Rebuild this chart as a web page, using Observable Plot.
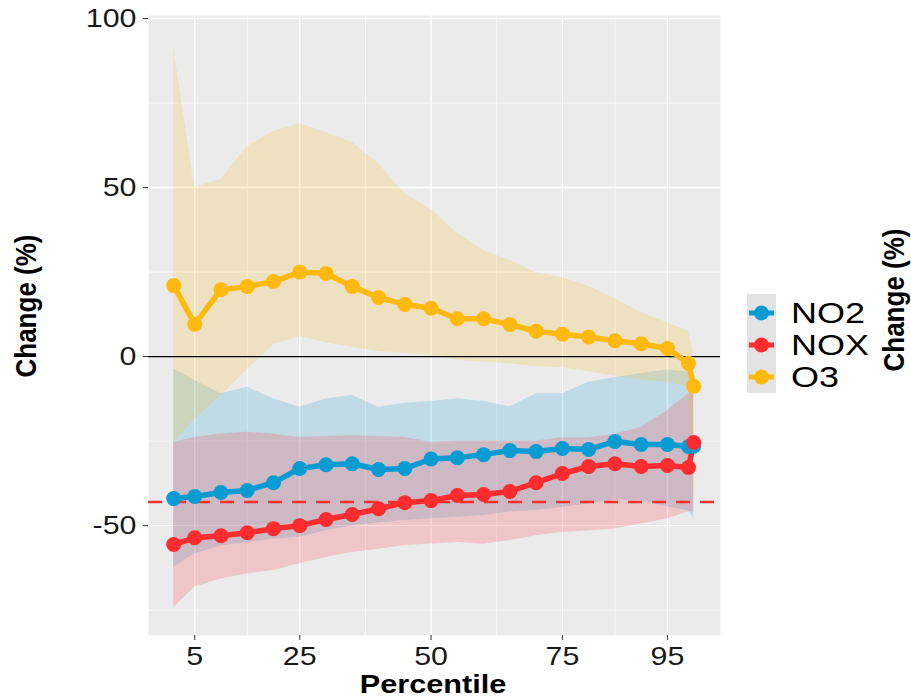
<!DOCTYPE html>
<html>
<head>
<meta charset="utf-8">
<script src="https://cdn.jsdelivr.net/npm/d3@7"></script>
<script src="https://cdn.jsdelivr.net/npm/@observablehq/plot@0.6"></script>
<style>
  html, body { margin: 0; padding: 0; background: #ffffff; }
  #wrap { position: relative; width: 911px; height: 698px; overflow: hidden; font-family: "Liberation Sans", Arial, sans-serif; }
  .ttl { position: absolute; font-weight: bold; font-size: 26px; color: #000; white-space: nowrap; line-height: 26px; }
  .rot { transform: translate(-50%, -50%) rotate(-90deg) scaleY(1.15); }
  .leg { position: absolute; font-size: 30px; color: #000; line-height: 26px; white-space: nowrap; transform-origin: left center; transform: translateY(-50%) scaleX(1.2); }
</style>
</head>
<body>
<div id="wrap"></div>
<script>
// ---- data ----
const percentiles = [1, 5, 10, 15, 20, 25, 30, 35, 40, 45, 50, 55, 60, 65, 70, 75, 80, 85, 90, 95, 99, 100];
const seriesNames = ["NO2", "NOX", "O3"];
const seriesColors = ["#0a9bd2", "#fd2d2f", "#ffb90f"];

const no2Mean = [-42.0, -41.4, -40.2, -39.6, -37.3, -33.1, -32.0, -31.7, -33.4, -33.1, -30.3, -29.9, -29.0, -27.8, -28.1, -27.2, -27.5, -25.1, -26.0, -26.0, -26.6, -26.5];
const no2High = [-3.6, -7.1, -11.0, -9.1, -12.5, -15.0, -12.5, -11.5, -15.0, -13.8, -13.3, -12.5, -13.3, -14.8, -11.0, -11.0, -7.6, -6.2, -5.0, -4.0, -4.5, -12.0];
const no2Low  = [-62.3, -58.4, -56.0, -55.0, -54.0, -53.4, -51.5, -50.0, -49.2, -48.5, -48.0, -47.5, -47.0, -46.0, -45.5, -44.6, -43.5, -42.5, -42.5, -44.5, -45.6, -48.0];

const noxMean = [-55.6, -53.6, -53.0, -52.1, -50.9, -50.0, -48.2, -46.7, -45.0, -43.2, -42.6, -41.1, -40.8, -39.9, -37.3, -34.6, -32.5, -31.7, -32.5, -32.2, -32.8, -25.4];
const noxHigh = [-25.3, -23.9, -22.9, -22.4, -22.9, -23.9, -23.6, -23.4, -23.6, -23.9, -25.3, -25.0, -25.0, -25.0, -25.0, -24.0, -24.0, -23.0, -21.0, -16.0, -11.0, -11.0];
const noxLow  = [-74.2, -68.2, -65.8, -64.3, -63.3, -61.3, -59.4, -57.9, -57.0, -55.9, -55.4, -55.0, -55.4, -54.4, -53.0, -52.0, -51.5, -51.0, -49.5, -48.0, -46.0, -46.0];

const o3Mean = [21.0, 9.6, 19.8, 20.7, 22.2, 25.0, 24.6, 20.7, 17.5, 15.4, 14.3, 11.2, 11.2, 9.5, 7.5, 6.6, 5.8, 4.7, 3.8, 2.4, -2.0, -8.8];
const o3High = [91.1, 50.0, 52.4, 62.1, 66.6, 68.9, 66.3, 63.3, 57.1, 48.2, 43.5, 36.4, 31.4, 28.4, 24.9, 23.4, 20.7, 17.2, 13.0, 10.0, 7.5, 1.0];
const o3Low  = [-25.5, -18.5, -11.5, -4.0, 3.6, 5.9, 4.1, 2.7, 1.5, 0.9, 0.3, -1.0, -1.7, -2.2, -2.9, -3.3, -4.4, -5.8, -7.0, -7.5, -9.0, -44.0];

const referenceLine = -43;
const xMajorTicks = [5, 25, 50, 75, 95];
const xMinorTicks = [15, 37.5, 62.5, 85];
const yMajorTicks = [-50, 0, 50, 100];
const yMinorTicks = [-75, -25, 25, 75];

// ---- build table ----
const seriesData = {
  NO2: {mean: no2Mean, lo: no2Low, hi: no2High},
  NOX: {mean: noxMean, lo: noxLow, hi: noxHigh},
  O3:  {mean: o3Mean,  lo: o3Low,  hi: o3High}
};
const rows = [];
for (const name of seriesNames) {
  const s = seriesData[name];
  percentiles.forEach((p, i) => rows.push({series: name, x: p, mean: s.mean[i], lo: s.lo[i], hi: s.hi[i]}));
}

const chart = Plot.plot({
  width: 911,
  height: 698,
  marginLeft: 148,
  marginRight: 191,
  marginTop: 15,
  marginBottom: 63,
  style: {fontFamily: "Liberation Sans, Arial, sans-serif", fontSize: "26px", color: "#1a1a1a", background: "transparent"},
  x: {domain: [-3.8, 105.1]},
  y: {domain: [-82.5, 100.9]},
  color: {domain: seriesNames, range: seriesColors},
  marks: [
    Plot.frame({fill: "#ebebeb", stroke: null}),
    Plot.gridX({ticks: xMinorTicks, stroke: "white", strokeOpacity: 1, strokeWidth: 0.7}),
    Plot.gridY({ticks: yMinorTicks, stroke: "white", strokeOpacity: 1, strokeWidth: 0.7}),
    Plot.gridX({ticks: xMajorTicks, stroke: "white", strokeOpacity: 1, strokeWidth: 1.4}),
    Plot.gridY({ticks: yMajorTicks, stroke: "white", strokeOpacity: 1, strokeWidth: 1.4}),
    Plot.areaY(rows, {x: "x", y1: "lo", y2: "hi", z: "series", fill: "series", fillOpacity: 0.19}),
    Plot.ruleY([0], {stroke: "black", strokeWidth: 1.4}),
    Plot.ruleY([referenceLine], {stroke: "#ff3030", strokeWidth: 2.6, strokeDasharray: "14,10"}),
    Plot.line(rows, {x: "x", y: "mean", z: "series", stroke: "series", strokeWidth: 5.5, strokeLinejoin: "round"}),
    Plot.dot(rows, {x: "x", y: "mean", fill: "series", r: 7.5}),
    Plot.axisX({ticks: xMajorTicks, tickSize: 5, tickPadding: 6, fontSize: 26, label: null, stroke: "#333", tickFormat: (d) => String(d)}),
    Plot.axisY({ticks: yMajorTicks, tickSize: 5, tickPadding: 7, fontSize: 26, label: null, stroke: "#333", tickFormat: (d) => String(d)})
  ]
});

// widen tick label glyphs horizontally, like the reference
d3.select(chart).selectAll('g[aria-label="x-axis tick label"] text, g[aria-label="y-axis tick label"] text')
  .each(function () {
    const t = this.getAttribute("transform");
    if (t) this.setAttribute("transform", t + " scale(1.17,1)");
  });

const wrap = document.getElementById("wrap");
chart.style.position = "absolute";
chart.style.left = "0px";
chart.style.top = "0px";
wrap.appendChild(chart);

function addDiv(cls, text, css) {
  const d = document.createElement("div");
  d.className = cls;
  d.textContent = text;
  Object.assign(d.style, css);
  wrap.appendChild(d);
  return d;
}
// axis titles
addDiv("ttl rot", "Change (%)", {left: "26px", top: "306px"});
addDiv("ttl rot", "Change (%)", {left: "894px", top: "300px"});
addDiv("ttl", "Percentile", {left: "433px", top: "672px", lineHeight: "24px", transform: "translateX(-50%) scaleX(1.18)"});

// legend
const keyBox = document.createElementNS("http://www.w3.org/2000/svg", "svg");
keyBox.setAttribute("width", "29");
keyBox.setAttribute("height", "99");
keyBox.style.position = "absolute";
keyBox.style.left = "747px";
keyBox.style.top = "294px";
const legendY = [19, 51, 83];
let inner = `<rect x="0" y="0" width="29" height="99" fill="#e3e3e3"/>`;
seriesNames.forEach((n, i) => {
  inner += `<line x1="2" x2="27" y1="${legendY[i]}" y2="${legendY[i]}" stroke="${seriesColors[i]}" stroke-width="5"/>`;
  inner += `<circle cx="14.5" cy="${legendY[i]}" r="7.5" fill="${seriesColors[i]}"/>`;
});
keyBox.innerHTML = inner;
wrap.appendChild(keyBox);
seriesNames.forEach((n, i) => {
  addDiv("leg", n, {left: "791px", top: (294 + legendY[i]) + "px"});
});
</script>
</body>
</html>
